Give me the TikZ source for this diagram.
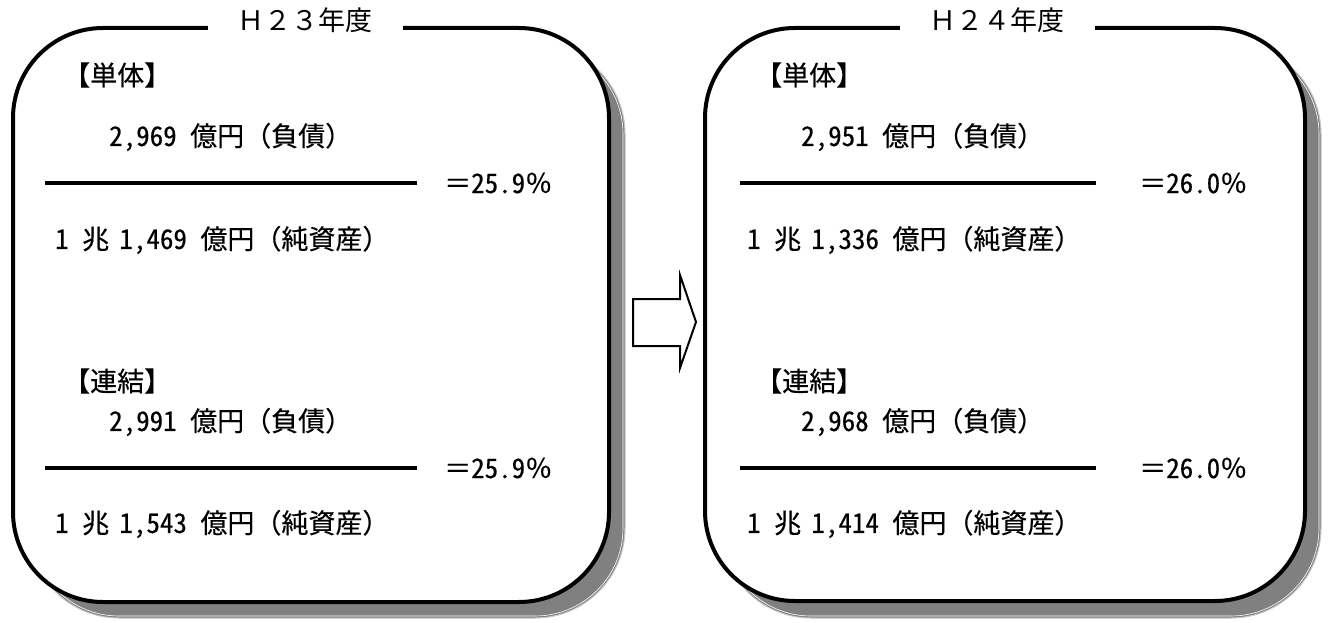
\documentclass[tikz,border=0pt]{standalone}
\usepackage{fontspec}
\setmainfont{Noto Sans CJK JP}
\newfontfamily\bodyfont[FakeBold=0.4]{Noto Sans CJK JP}
\newfontfamily\hw[RawFeature=+hwid,FakeBold=0.4]{Noto Sans CJK JP}
\newcommand{\gap}{\hspace{0.38em}}
\begin{document}
\begin{tikzpicture}[x=1pt,y=-1pt,
  box/.style={draw=black,line width=4pt,fill=white,rounded corners=90pt},
  shadowbox/.style={fill=black!50,draw=black!22,line width=1pt,rounded corners=90pt},
  shadowline/.style={draw=white,line width=0.6pt,rounded corners=88pt},
  txt/.style={anchor=west,inner sep=0pt,font=\fontsize{27}{30}\bodyfont},
  ttl/.style={fill=white,inner xsep=30pt,inner ysep=1pt,font=\fontsize{27}{30}\selectfont},
  frac/.style={line width=3.5pt},
  blockarrow/.style={draw=black,line width=2pt,fill=white,line join=miter}]
\useasboundingbox (0,0) rectangle (1330,623);
\fill[white] (0,0) rectangle (1330,623);
% left panel
\path[shadowbox] (29,44) rectangle (625,618);
\path[shadowline] (31,46) rectangle (623,616);
\path[box] (13,28) rectangle (609,602);
\node[ttl] (LT) at (305,20) {Ｈ２３年度};
\node[txt] (L1) at (63,75) {【単体】};
\node[txt] (L2) at (109,137) {{\hw 2,969 }億円（負債）};
\coordinate (L3a) at (45,183); \coordinate (L3b) at (417,183);
\draw[frac] (L3a) -- (L3b);
\node[txt] (L4) at (444,183) {＝{\hw 25.9}％};
\node[txt] (L5) at (55,240) {{\hw 1 }兆\gap{\hw 1,469 }億円（純資産）};
\node[txt] (L6) at (63,381) {【連結】};
\node[txt] (L7) at (109,422) {{\hw 2,991 }億円（負債）};
\coordinate (L8a) at (45,468); \coordinate (L8b) at (417,468);
\draw[frac] (L8a) -- (L8b);
\node[txt] (L9) at (444,468) {＝{\hw 25.9}％};
\node[txt] (L10) at (55,524) {{\hw 1 }兆\gap{\hw 1,543 }億円（純資産）};
% arrow
\draw[blockarrow] (633,299) -- (680,299) -- (680,275) -- (696,322) -- (680,368) -- (680,346) -- (633,346) -- cycle;
% right panel
\path[shadowbox] (721,44) rectangle (1321,618);
\path[shadowline] (723,46) rectangle (1319,616);
\path[box] (705,28) rectangle (1305,601);
\node[ttl] (RT) at (997,20) {Ｈ２４年度};
\node[txt] (R1) at (755,75) {【単体】};
\node[txt] (R2) at (801,137) {{\hw 2,951 }億円（負債）};
\coordinate (R3a) at (740,183); \coordinate (R3b) at (1096,183);
\draw[frac] (R3a) -- (R3b);
\node[txt] (R4) at (1139,183) {＝{\hw 26.0}％};
\node[txt] (R5) at (747,240) {{\hw 1 }兆\gap{\hw 1,336 }億円（純資産）};
\node[txt] (R6) at (755,381) {【連結】};
\node[txt] (R7) at (801,422) {{\hw 2,968 }億円（負債）};
\coordinate (R8a) at (740,468); \coordinate (R8b) at (1096,468);
\draw[frac] (R8a) -- (R8b);
\node[txt] (R9) at (1139,468) {＝{\hw 26.0}％};
\node[txt] (R10) at (747,524) {{\hw 1 }兆\gap{\hw 1,414 }億円（純資産）};
\end{tikzpicture}
\end{document}
